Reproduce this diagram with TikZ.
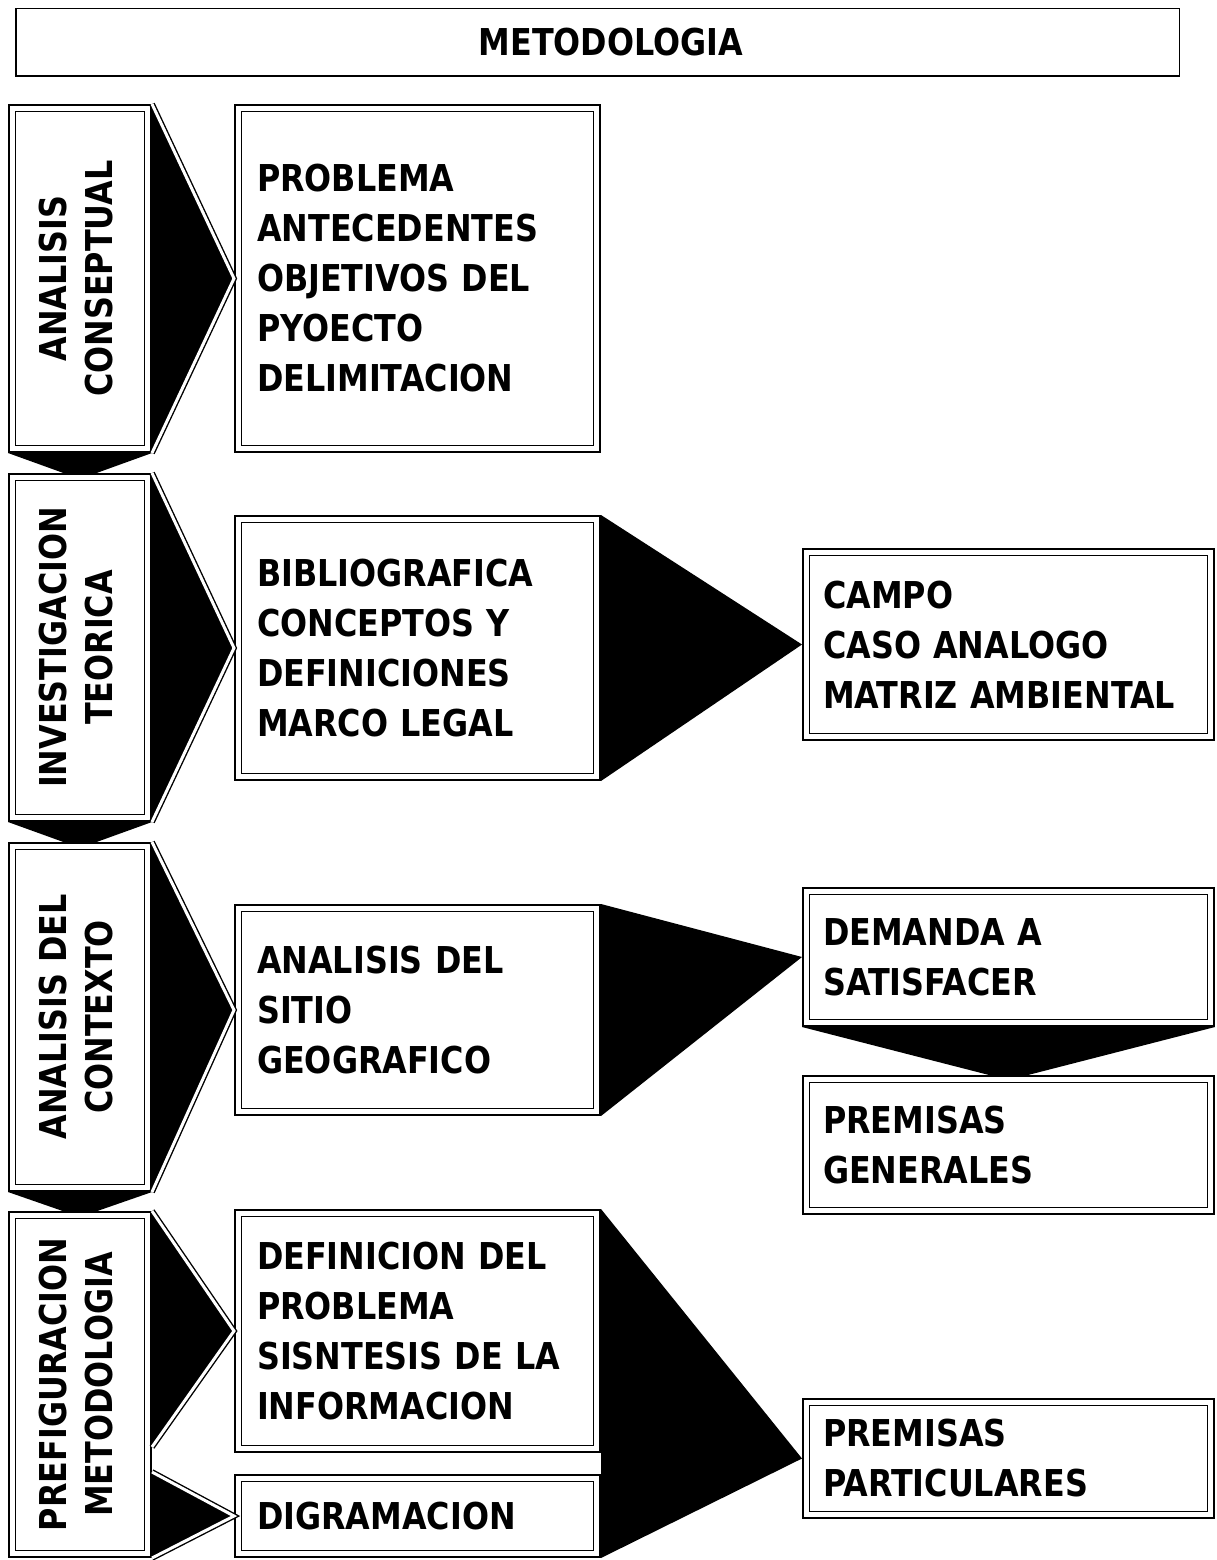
\documentclass[tikz,border=0pt]{standalone}
\usepackage{fontspec}
\setmainfont{DejaVu Sans}[FakeStretch=0.86]
\usetikzlibrary{calc,backgrounds}
\newcommand\vtxt[2]{\rotatebox{90}{\fontsize{37}{46}\selectfont\begin{tabular}{@{}c@{}}#1\\#2\end{tabular}}}
\begin{document}
\begin{tikzpicture}[x=1pt,y=-1pt,
  txt/.style={font=\bfseries\fontsize{37}{50}\selectfont},
  dbox/.style={draw=black, fill=white, line width=1.6pt, double=white, double distance=5pt, outer sep=4.1pt, inner ysep=0pt, txt},
  lbox/.style={dbox, inner sep=0pt, minimum width=135.8pt, minimum height=#1},
  mbox/.style={dbox, inner xsep=19pt, text width=320.8pt, align=left, minimum height=#1},
  rbox/.style={dbox, inner xsep=17pt, text width=370.8pt, align=left, minimum height=#1},
  dedge/.style={draw=black, line width=1.4pt, double=white, double distance=3pt},
  blk/.style={fill=black}
]
\useasboundingbox (0,0) rectangle (1217,1560);

% title
\node[draw=black, line width=1.5pt, minimum width=1163.5pt, minimum height=67.5pt, inner sep=0pt, outer sep=0pt, txt] (title) at (597.5,42.5) {\hspace*{27pt}METODOLOGIA};

% left column
\node[lbox=340.8pt] (L1) at (80,278.5) {\vtxt{ANALISIS}{CONSEPTUAL}};
\node[lbox=340.8pt] (L2) at (80,647.5) {\vtxt{INVESTIGACION}{TEORICA}};
\node[lbox=341.8pt] (L3) at (80,1017) {\vtxt{ANALISIS DEL}{CONTEXTO}};
\node[lbox=338.8pt] (L4) at (80,1384.5) {\vtxt{PREFIGURACION}{METODOLOGIA}};

% middle column
\node[mbox=340.8pt] (M1) at (417.5,278.5) {PROBLEMA\\ANTECEDENTES\\OBJETIVOS DEL\\PYOECTO\\DELIMITACION};
\node[mbox=257.8pt] (M2) at (417.5,648) {BIBLIOGRAFICA\\CONCEPTOS Y\\DEFINICIONES\\MARCO LEGAL};
\node[mbox=203.8pt] (M3) at (417.5,1010) {ANALISIS DEL\\SITIO\\GEOGRAFICO};
\node[mbox=235.8pt] (M4) at (417.5,1331) {DEFINICION DEL\\PROBLEMA\\SISNTESIS DE LA\\INFORMACION};
\node[mbox=75.8pt] (M5) at (417.5,1516) {DIGRAMACION};

% right column
\node[rbox=184.8pt] (R1) at (1008.5,644.5) {CAMPO\\CASO ANALOGO\\MATRIZ AMBIENTAL};
\node[rbox=131.8pt] (R2) at (1008.5,957) {DEMANDA A\\SATISFACER};
\node[rbox=131.8pt] (R3) at (1008.5,1145) {PREMISAS\\GENERALES};
\node[rbox=112.8pt] (R4) at (1008.5,1458.5) {PREMISAS\\PARTICULARES};

% helper coordinates
\coordinate (l4a) at ($(L4.north east)+(0,236)$);
\coordinate (l4b) at ($(L4.north east)+(0,261)$);
\coordinate (c1) at ($(L2.north)+(0,6)$);
\coordinate (c2) at ($(L3.north)+(0,6)$);
\coordinate (c3) at ($(L4.north)+(0,6)$);
\coordinate (c4) at ($(R3.north)+(0,5)$);

% down chevrons (behind boxes)
\begin{scope}[on background layer]
\fill[blk] (L1.south west) -- (L1.south east) -- (c1) -- cycle;
\fill[blk] (L2.south west) -- (L2.south east) -- (c2) -- cycle;
\fill[blk] (L3.south west) -- (L3.south east) -- (c3) -- cycle;
\fill[blk] (R2.south west) -- (R2.south east) -- (c4) -- cycle;
\end{scope}

% left pointers with double outline
\foreach \a/\b in {L1/M1,L2/M2,L3/M3}{
  \fill[blk] (\a.north east) -- (\b.west) -- (\a.south east) -- cycle;
  \draw[dedge] (\a.north east) -- (\b.west) -- (\a.south east);
}
\fill[blk] (L4.north east) -- (M4.west) -- (l4a) -- cycle;
\draw[dedge] (L4.north east) -- (M4.west) -- (l4a);
\fill[blk] (l4b) -- (M5.west) -- (L4.south east) -- cycle;
\draw[dedge] (l4b) -- (M5.west) -- (L4.south east);

% big pointers
\fill[blk] (M2.north east) -- (R1.west) -- (M2.south east) -- cycle;
\fill[blk] (M3.north east) -- (R2.west) -- (M3.south east) -- cycle;
\fill[blk] (M4.north east) -- (R4.west) -- (M5.south east) -- cycle;
\end{tikzpicture}
\end{document}
